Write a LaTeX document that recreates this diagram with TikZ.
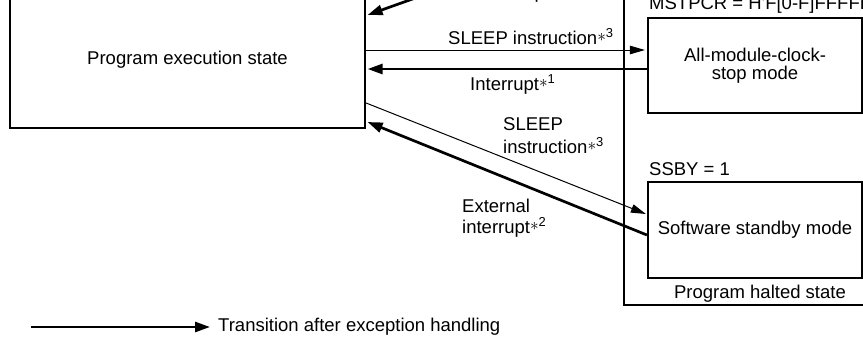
\documentclass[tikz,border=0pt]{standalone}
\usepackage{fontspec}
\setmainfont{Liberation Sans}
\usetikzlibrary{arrows.meta,calc}

% footnote marker: asterisk at mid height followed by a raised number
\newcommand{\noteref}[1]{\raisebox{3pt}{$\ast$}\textsuperscript{#1}}

\begin{document}
\begin{tikzpicture}[x=1pt,y=-1pt,
  font=\fontsize{18.5}{18}\selectfont,
  statebox/.style={draw, line width=2.2pt, inner sep=0pt, align=center},
  thinarrow/.style={line width=1pt, -{Triangle[length=15pt,width=8.5pt]}},
  thickarrow/.style={line width=2.7pt, -{Triangle[length=15pt,width=10pt]}},
  lbl/.style={anchor=base west, inner sep=0pt}]

\useasboundingbox (0,0) rectangle (863,338);
\clip (0,0) rectangle (863,338);

% states
\node[statebox, minimum width=355pt, minimum height=136pt] (prog) at (187.5,60)
  {Program execution state};
\node[draw, line width=2pt, minimum width=256pt, minimum height=345pt, inner sep=0pt]
  (halted) at (752,132.5) {};
\node[anchor=base, inner sep=0pt] (haltedlbl) at (760,298) {Program halted state};

\node[statebox, minimum width=214pt, minimum height=95pt,
      font=\fontsize{18.5}{17.5}\selectfont] (am) at (755,65.5)
  {All-module-clock-\\stop mode};
\node[lbl] (mstpcr) at (649,9) {MSTPCR = H\textquotesingle F[0-F]FFFFFF};

\node[statebox, minimum width=214pt, minimum height=96pt] (ss) at (755,230)
  {Software standby mode};
\node[lbl] (ssby) at (649,175) {SSBY = 1};

% transitions
\coordinate (fromsleep) at (536,-45);
\draw[thickarrow] (fromsleep) -- ([xshift=1.5pt,yshift=45pt]prog.east);
\node[lbl] (intsleep) at (481,-2) {Interrupt\noteref{1}};

\draw[thinarrow] ([yshift=10pt]prog.east) -- ([xshift=-2pt,yshift=15.5pt]am.west);
\node[lbl] (sleepam) at (448,44) {SLEEP instruction\noteref{3}};
\draw[thickarrow] ([yshift=-3.5pt]am.west) -- ([xshift=1.5pt,yshift=-9pt]prog.east);
\node[lbl] (intam) at (470,90) {Interrupt\noteref{1}};

\draw[thinarrow] ([yshift=-43pt]prog.east) -- ([xshift=-1pt,yshift=16pt]ss.west);
\node[lbl] (sleepssA) at (503,130) {SLEEP};
\node[lbl] (sleepssB) at (503,153) {instruction\noteref{3}};
\draw[thickarrow] ([yshift=-5pt]ss.west) -- ([xshift=1.5pt,yshift=-62pt]prog.east);
\node[lbl] (extintA) at (462,212) {External};
\node[lbl] (extintB) at (462,233) {interrupt\noteref{2}};

% legend
\coordinate (legstart) at (31,327);
\node[anchor=west, inner xsep=8pt, inner ysep=0pt] (legtext) at (210,327)
  {Transition after exception handling};
\draw[thickarrow] (legstart) -- (legtext.west);
\end{tikzpicture}
\end{document}
